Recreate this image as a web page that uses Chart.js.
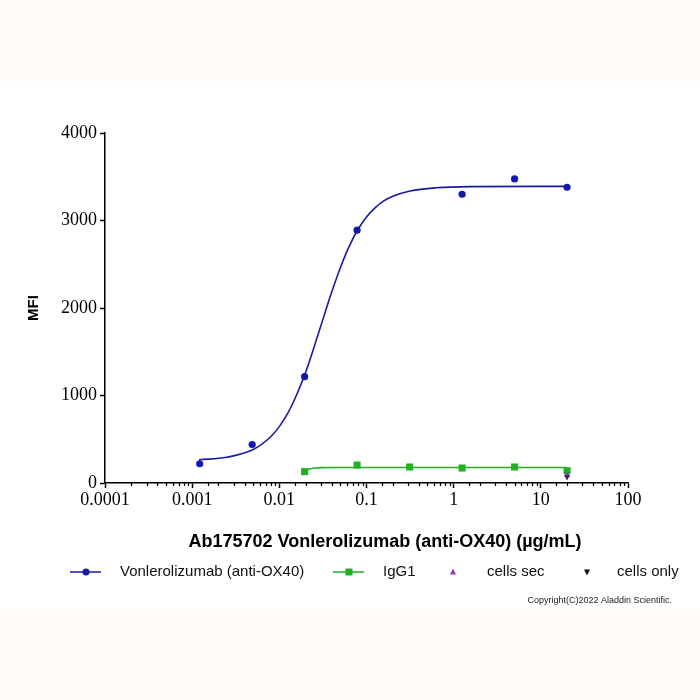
<!DOCTYPE html>
<html>
<head>
<meta charset="utf-8">
<script src="https://cdn.jsdelivr.net/npm/chart.js@4/dist/chart.umd.min.js"></script>
<style>
   html, body { margin: 0; padding: 0; background: #ffffff; }
   #wrap { width: 700px; height: 700px; }
</style>
</head>
<body>
<div id="wrap"><canvas id="doseChart" width="700" height="700"></canvas></div>
<script>
/* -----------------------------------------------------------------------
   data
   ------------------------------------------------------------------------*/
const conc = [0.00122, 0.00488, 0.0195, 0.078, 0.3125, 1.25, 5, 20];
const vonValues = [220, 440, 1215, 2890, null, 3300, 3475, 3380];
const iggValues = [null, null, 130, 205, 183, 171, 183, 140];
const cellsSecValues = [95];
const cellsOnlyValues = [70];
const cellsConc = [20];

// fitted curves
const vonFitX = [0.0012, 0.0025, 0.005, 0.0079, 0.01, 0.0126, 0.0158, 0.02, 0.0251, 0.0316, 0.0398, 0.0501, 0.0631, 0.0794, 0.1, 0.126, 0.158, 0.2, 0.316, 0.631, 1.58, 20];
const vonFitY = [266, 294, 382, 526, 644, 803, 1009, 1263, 1556, 1870, 2179, 2461, 2702, 2894, 3040, 3147, 3224, 3277, 3338, 3374, 3387, 3390];
const iggFitX = [0.0195, 0.021, 0.023, 0.026, 0.03, 0.04, 0.1, 20];
const iggFitY = [128, 150, 163, 172, 176, 178, 178, 178];

const xTickLabels = ["0.0001", "0.001", "0.01", "0.1", "1", "10", "100"];
const yTicks = [0, 1000, 2000, 3000, 4000];
const seriesNames = ["Vonlerolizumab (anti-OX40)", "IgG1", "cells sec", "cells only"];
const xTitle = "Ab175702 Vonlerolizumab (anti-OX40) (µg/mL)";

const BLUE = "#1a1a9e";
const GREEN = "#22b022";
const PURPLE = "#9a32c4";
const BLACK = "#111111";

const toPts = function(xs, ys) {
   const out = [];
   xs.forEach(function(x, i) {
      if (ys[i] !== null) out.push({x: x, y: ys[i]});
   });
   return out;
};
const isPow10 = function(v) {
   const l = Math.log10(v);
   return Math.abs(l - Math.round(l)) < 1e-6;
};

/* -----------------------------------------------------------------------
   plugins
   ------------------------------------------------------------------------*/
const bgPlugin = {
   id: "bg",
   beforeDraw: function(chart) {
      const ctx = chart.ctx;
      ctx.save();
      ctx.fillStyle = "#ffffff";
      ctx.fillRect(0, 0, chart.width, chart.height);
      ctx.fillStyle = "#fffaf5";
      ctx.fillRect(0, 0, chart.width, 81);
      ctx.fillRect(0, 611, chart.width, chart.height - 611);
      ctx.restore();
   }
};

function drawMarker(ctx, style, x, y, color) {
   ctx.fillStyle = color;
   ctx.beginPath();
   if (style === "circle") {
      ctx.arc(x, y, 3.5, 0, Math.PI * 2);
   } else if (style === "rect") {
      ctx.rect(x - 3.5, y - 3.5, 7, 7);
   } else if (style === "up") {
      ctx.moveTo(x, y - 3.5); ctx.lineTo(x + 3, y + 2.5); ctx.lineTo(x - 3, y + 2.5);
   } else {
      ctx.moveTo(x, y + 3.5); ctx.lineTo(x + 3, y - 2.5); ctx.lineTo(x - 3, y - 2.5);
   }
   ctx.closePath();
   ctx.fill();
}

const extrasPlugin = {
   id: "extras",
   afterDraw: function(chart) {
      const ctx = chart.ctx;
      const xs = chart.scales.x;
      ctx.save();
      // minor log ticks
      ctx.strokeStyle = "#000";
      ctx.lineWidth = 1.2;
      xs.ticks.forEach(function(t) {
         if (isPow10(t.value)) return;
         const px = Math.round(xs.getPixelForValue(t.value)) + 0.5;
         ctx.beginPath();
         ctx.moveTo(px, xs.top);
         ctx.lineTo(px, xs.top + 3);
         ctx.stroke();
      });

      // x axis title (sits a bit right of the axis centre in the reference)
      ctx.font = "bold 18px 'Liberation Sans', Arial, sans-serif";
      ctx.fillStyle = "#000";
      ctx.textAlign = "center";
      ctx.textBaseline = "middle";
      ctx.fillText(xTitle, 385, 542);

      // legend
      const legend = [
         {style: "circle", color: BLUE, line: true, lx: 70, mx: 86, tx: 120},
         {style: "rect", color: GREEN, line: true, lx: 333, mx: 349, tx: 383},
         {style: "up", color: PURPLE, line: false, lx: 0, mx: 453, tx: 487},
         {style: "down", color: BLACK, line: false, lx: 0, mx: 587, tx: 617},
      ];
      const ly = 572;
      ctx.font = "15px 'Liberation Sans', Arial, sans-serif";
      ctx.textAlign = "left";
      legend.forEach(function(item, i) {
         if (item.line) {
            ctx.strokeStyle = item.color;
            ctx.lineWidth = 1.5;
            ctx.beginPath();
            ctx.moveTo(item.lx, ly);
            ctx.lineTo(item.lx + 31, ly);
            ctx.stroke();
         }
         drawMarker(ctx, item.style, item.mx, ly, item.color);
         ctx.fillStyle = "#111";
         ctx.fillText(seriesNames[i], item.tx, ly);
      });

      // copyright
      ctx.font = "9px 'Liberation Sans', Arial, sans-serif";
      ctx.textAlign = "right";
      ctx.fillStyle = "#222";
      ctx.fillText("Copyright(C)2022 Aladdin Scientific.", 672, 601);
      ctx.restore();
   }
};

/* -----------------------------------------------------------------------
   chart
   ------------------------------------------------------------------------*/
const data = {
   datasets: [
      {
         label: seriesNames[0] + " fit",
         data: toPts(vonFitX, vonFitY),
         showLine: true,
         borderColor: BLUE,
         borderWidth: 1.6,
         pointRadius: 0,
         cubicInterpolationMode: "monotone",
      }, {
         label: seriesNames[1] + " fit",
         data: toPts(iggFitX, iggFitY),
         showLine: true,
         borderColor: GREEN,
         borderWidth: 1.6,
         pointRadius: 0,
         cubicInterpolationMode: "monotone",
      }, {
         label: seriesNames[0],
         data: toPts(conc, vonValues),
         pointStyle: "circle",
         pointRadius: 3.6,
         backgroundColor: "#1515b5",
         borderColor: "#1515b5",
         borderWidth: 0,
      }, {
         label: seriesNames[3],
         data: toPts(cellsConc, cellsOnlyValues),
         pointStyle: "triangle",
         rotation: 180,
         pointRadius: 3.5,
         backgroundColor: "#3a2850",
         borderWidth: 0,
      }, {
         label: seriesNames[2],
         data: toPts(cellsConc, cellsSecValues),
         pointStyle: "triangle",
         pointRadius: 3.5,
         backgroundColor: PURPLE,
         borderWidth: 0,
      }, {
         label: seriesNames[1],
         data: toPts(conc, iggValues),
         pointStyle: "rect",
         pointRadius: 5,
         backgroundColor: GREEN,
         borderWidth: 0,
      }
   ]
};

const config = {
   type: "scatter",
   data: data,
   plugins: [bgPlugin, extrasPlugin],
   options: {
      responsive: false,
      animation: false,
      layout: {
         padding: {top: 133, right: 72, left: 0, bottom: 0}
      },
      scales: {
         x: {
            type: "logarithmic",
            min: 0.0001,
            max: 100,
            afterFit: function(scale) { scale.height = 217; },
            border: {color: "#000", width: 1.5},
            grid: {
               drawOnChartArea: false,
               tickLength: 5,
               tickWidth: 1.5,
               tickColor: function(c) {
                  return c.tick && isPow10(c.tick.value) ? "#000" : "rgba(0,0,0,0)";
               },
            },
            ticks: {
               autoSkip: false,
               maxRotation: 0,
               padding: 1,
               color: "#000",
               font: {family: "'Liberation Serif', 'Times New Roman', serif", size: 18},
               callback: function(value) {
                  if (!isPow10(value)) return "";
                  return xTickLabels[Math.round(Math.log10(value)) + 4];
               }
            }
         },
         y: {
            min: 0,
            max: 4000,
            afterFit: function(scale) { scale.width = 105; },
            afterBuildTicks: function(scale) {
               scale.ticks = yTicks.map(function(v) { return {value: v}; });
            },
            border: {color: "#000", width: 1.5},
            grid: {drawOnChartArea: false, tickLength: 5, tickWidth: 1.5, tickColor: "#000"},
            ticks: {
               padding: 3,
               color: "#000",
               font: {family: "'Liberation Serif', 'Times New Roman', serif", size: 18},
               callback: function(value) { return String(value); }
            },
            title: {
               display: true,
               text: "MFI",
               color: "#000",
               font: {family: "'Liberation Sans', Arial, sans-serif", size: 15, weight: "bold"},
               padding: {top: 25, bottom: 0},
            }
         }
      },
      plugins: {
         legend: {display: false},
         tooltip: {enabled: false},
      }
   }
};

const doseChart = new Chart(document.getElementById("doseChart"), config);
</script>
</body>
</html>
